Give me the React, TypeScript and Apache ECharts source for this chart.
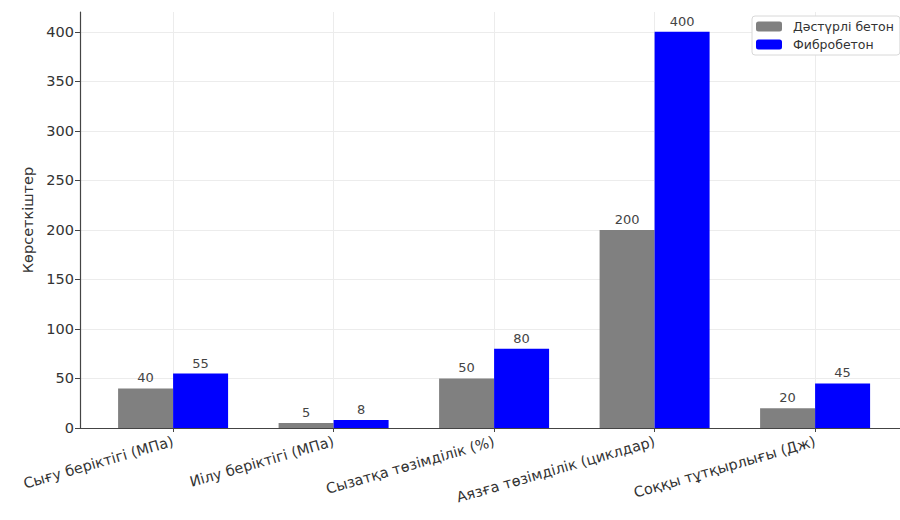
import React, { useEffect, useRef } from "react";
import * as echarts from "echarts";

const categories = [
  "Сығу беріктігі (МПа)",
  "Иілу беріктігі (МПа)",
  "Сызатқа төзімділік (%)",
  "Аязға төзімділік (циклдар)",
  "Соққы тұтқырлығы (Дж)",
];
const traditional = [40, 5, 50, 200, 20];
const fiber = [55, 8, 80, 400, 45];
const seriesNames = ["Дәстүрлі бетон", "Фибробетон"];
const yTicks = { min: 0, max: 420, interval: 50 };

export default function App() {
  const ref = useRef<HTMLDivElement>(null);
  useEffect(() => {
    document.body.style.margin = "0";
    const chart = echarts.init(ref.current!, null, { renderer: "svg" });
    const font = "DejaVu Sans";
    const labelCfg = {
      show: true,
      position: "top",
      distance: 4,
      color: "#444",
      fontSize: 13,
      fontFamily: font,
    };
    chart.setOption({
      animation: false,
      textStyle: { fontFamily: font },
      grid: { left: 80, right: 0, top: 12, bottom: 92, containLabel: false },
      legend: {
        orient: "vertical",
        left: 752,
        top: 16,
        itemWidth: 26,
        itemHeight: 10,
        itemGap: 5,
        padding: [4, 6, 4, 4],
        borderColor: "#d8d8d8",
        borderWidth: 1,
        borderRadius: 3,
        backgroundColor: "#fff",
        textStyle: { fontSize: 12.5, color: "#333", fontFamily: font, padding: [0, 0, 0, 6] },
        data: seriesNames,
      },
      xAxis: {
        type: "value",
        min: -0.58,
        max: 4.529,
        minInterval: 1,
        maxInterval: 1,
        axisLine: { show: true, onZero: false, lineStyle: { color: "#444", width: 1.2 } },
        axisTick: { show: true, length: 4, lineStyle: { color: "#444" } },
        splitLine: {
          show: true,
          showMinLine: false,
          showMaxLine: false,
          lineStyle: { color: "#ececec", width: 1 },
        },
        axisLabel: {
          rotate: 16,
          fontSize: 14.5,
          color: "#333",
          fontFamily: font,
          margin: 13,
          showMinLabel: false,
          showMaxLabel: false,
          formatter: (v: number) => {
            const r = Math.round(v);
            return Math.abs(v - r) < 1e-6 && r >= 0 && r < categories.length ? categories[r] : "";
          },
        },
      },
      yAxis: {
        type: "value",
        min: yTicks.min,
        max: yTicks.max,
        interval: yTicks.interval,
        name: "Көрсеткіштер",
        nameLocation: "middle",
        nameGap: 40,
        nameTextStyle: { fontSize: 14.5, color: "#333", fontFamily: font },
        axisLine: { show: true, onZero: false, lineStyle: { color: "#444", width: 1.2 } },
        axisTick: { show: true, length: 5, lineStyle: { color: "#444" } },
        splitLine: {
          show: true,
          showMaxLine: false,
          lineStyle: { color: "#ececec", width: 1 },
        },
        axisLabel: {
          fontSize: 14.5,
          color: "#333",
          fontFamily: font,
          margin: 6,
          showMaxLabel: false,
          formatter: (v: number) => (v % 50 === 0 ? String(v) : ""),
        },
      },
      series: [
        {
          name: seriesNames[0],
          type: "bar",
          barWidth: 55,
          barGap: "0%",
          itemStyle: { color: "#808080" },
          label: labelCfg,
          data: traditional.map((v, i) => [i, v]),
        },
        {
          name: seriesNames[1],
          type: "bar",
          barWidth: 55,
          barGap: "0%",
          itemStyle: { color: "#0000ff" },
          label: labelCfg,
          data: fiber.map((v, i) => [i, v]),
        },
      ],
    });
    return () => chart.dispose();
  }, []);
  return <div ref={ref} style={{ width: 900, height: 520 }} />;
}
